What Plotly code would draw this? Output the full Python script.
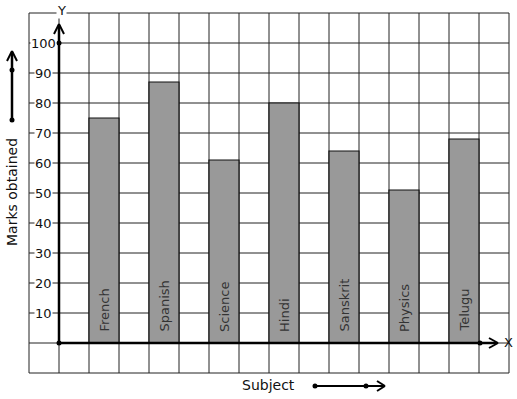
import plotly.graph_objects as go

subjects = ["French", "Spanish", "Science", "Hindi", "Sanskrit", "Physics", "Telugu"]
marks = [75, 87, 61, 80, 64, 51, 68]
bar_x = [1.5, 3.5, 5.5, 7.5, 9.5, 11.5, 13.5]
y_ticks = [10, 20, 30, 40, 50, 60, 70, 80, 90, 100]

W, H = 517, 399
FONT = "DejaVu Sans"

# pixel -> data helpers (layout only)
def X(px):
    return (px - 59) / 30.0

def Y(py):
    return (343 - py) / 3.0

fig = go.Figure()
fig.add_trace(go.Bar(
    x=bar_x, y=marks, width=1,
    marker=dict(color="#999999", line=dict(color="#111111", width=1.2)),
    hoverinfo="skip",
))

shapes = []
grid_col = "#222222"
for i in range(-1, 16):
    shapes.append(dict(type="line", x0=i, x1=i, y0=-10, y1=110, layer="below",
                       line=dict(color=grid_col, width=1)))
for v in range(-10, 111, 10):
    shapes.append(dict(type="line", x0=-1, x1=15, y0=v, y1=v, layer="below",
                       line=dict(color=grid_col, width=1)))

def seg(x0, y0, x1, y1, w=2.5):
    shapes.append(dict(type="line", x0=X(x0), y0=Y(y0), x1=X(x1), y1=Y(y1),
                       layer="above", line=dict(color="black", width=w)))

def dot(cx, cy, r=2.5):
    shapes.append(dict(type="circle", x0=X(cx - r), x1=X(cx + r), y0=Y(cy + r), y1=Y(cy - r),
                       layer="above", fillcolor="black", line=dict(color="black", width=0)))

# y axis
seg(59, 343, 59, 25)
seg(54, 34, 59, 24, 2); seg(64, 34, 59, 24, 2)
dot(59, 43); dot(59, 343)
# x axis
seg(59, 343, 496, 343)
seg(489, 338, 498, 343, 2); seg(489, 348, 498, 343, 2)
dot(480, 343)
# left arrow
seg(12, 120, 12, 52)
seg(7, 61, 12, 51, 2); seg(17, 61, 12, 51, 2)
dot(12, 70); dot(12, 120)
# bottom arrow
seg(315, 386, 384, 386, 2)
seg(377, 381, 385, 386, 2); seg(377, 391, 385, 386, 2)
dot(315, 386); dot(366, 386)

ann = []
for v in y_ticks:
    ann.append(dict(x=X(43), y=v, text=str(v), showarrow=False, bgcolor="white", borderpad=0,
                    font=dict(family=FONT, size=13, color="#111"), xanchor="center", yanchor="middle"))
for s, xx in zip(subjects, bar_x):
    ann.append(dict(x=xx, y=0, text=s, showarrow=False, textangle=-90, yshift=9,
                    xanchor="center", yanchor="bottom",
                    font=dict(family=FONT, size=13, color="#333")))
ann.append(dict(x=X(61), y=Y(10), text="Y", showarrow=False, bgcolor="white", borderpad=0,
                font=dict(family=FONT, size=13, color="#111")))
ann.append(dict(x=X(508), y=Y(342), text="X", showarrow=False,
                font=dict(family=FONT, size=13, color="#111")))
ann.append(dict(x=X(268), y=Y(385), text="Subject", showarrow=False,
                font=dict(family=FONT, size=14, color="#111")))
ann.append(dict(x=X(12), y=Y(192), text="Marks obtained", showarrow=False, textangle=-90,
                font=dict(family=FONT, size=14, color="#111")))

fig.update_layout(
    width=W, height=H, margin=dict(l=0, r=0, t=0, b=0),
    paper_bgcolor="white", plot_bgcolor="white", showlegend=False,
    xaxis=dict(range=[X(0), X(W)], visible=False, fixedrange=True),
    yaxis=dict(range=[Y(H), Y(0)], visible=False, fixedrange=True),
    shapes=shapes, annotations=ann, font=dict(family=FONT),
)
fig.write_html("out.html")
